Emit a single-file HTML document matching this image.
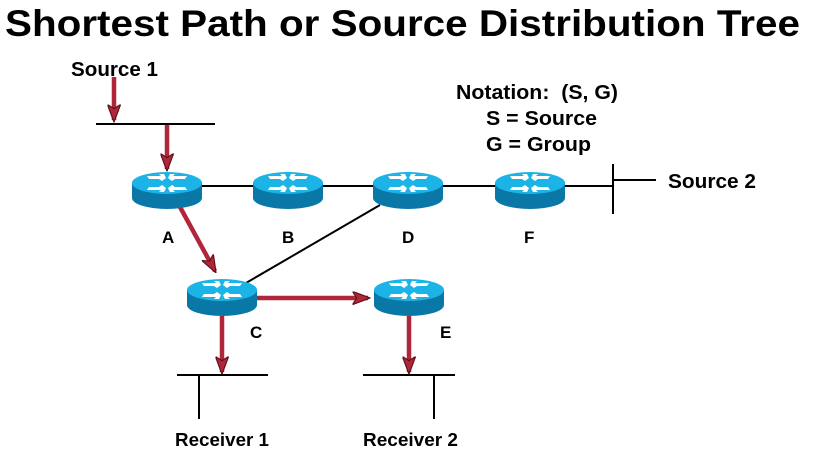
<!DOCTYPE html>
<html><head><style>
html,body{margin:0;padding:0;background:#fff}
svg{display:block}
text{font-family:"Liberation Sans",Arial,sans-serif;font-weight:bold;fill:#000}
</style></head><body>
<svg width="818" height="471" viewBox="0 0 818 471" xmlns="http://www.w3.org/2000/svg">
<defs>
<g id="r">
<path d="M-35,0 L-35,15 A35,11 0 0 0 35,15 L35,0 Z" fill="#0a78a6"/>
<ellipse cx="0" cy="0" rx="35" ry="11" fill="#1cb4e6"/>
<g fill="#fff">
<polygon points="-20,-7 -6,-7 -8,-9 -3,-9 -1,-5 -5,-2 -8,-4 -18,-4"/>
<polygon points="20,-7 6,-7 8,-9 3,-9 1,-5 5,-2 8,-4 18,-4"/>
<polygon points="-20,7 -6,7 -8,9 -3,9 -1,5 -5,2 -8,4 -18,4"/>
<polygon points="20,7 6,7 8,9 3,9 1,5 5,2 8,4 18,4"/>
</g>
</g>
<marker id="ah" markerWidth="4" markerHeight="3" refX="3.5" refY="1.5" orient="auto" markerUnits="strokeWidth">
<path d="M0,0 L4,1.5 L0,3 L1,1.5 Z" fill="#b0263a" stroke="#5a1018" stroke-width="0.25"/>
</marker>
</defs>
<text x="5" y="36" font-size="37" textLength="795" lengthAdjust="spacingAndGlyphs">Shortest Path or Source Distribution Tree</text>
<text x="71" y="76" font-size="20" textLength="87" lengthAdjust="spacingAndGlyphs">Source 1</text>
<text x="456" y="99" font-size="20" textLength="162" lengthAdjust="spacingAndGlyphs" xml:space="preserve">Notation:  (S, G)</text>
<text x="486" y="125" font-size="20" textLength="111" lengthAdjust="spacingAndGlyphs">S = Source</text>
<text x="486" y="151" font-size="20" textLength="105" lengthAdjust="spacingAndGlyphs">G = Group</text>
<text x="668" y="188" font-size="20" textLength="88" lengthAdjust="spacingAndGlyphs">Source 2</text>
<g stroke="#000" stroke-width="2" fill="none">
<line x1="96" y1="124" x2="215" y2="124"/>
<line x1="167" y1="186" x2="530" y2="186"/>
<line x1="530" y1="186" x2="613" y2="186"/>
<line x1="613" y1="164" x2="613" y2="214"/>
<line x1="613" y1="180" x2="656" y2="180"/>
<line x1="380" y1="205" x2="246" y2="283"/>
<line x1="177" y1="375" x2="268" y2="375"/>
<line x1="199" y1="375" x2="199" y2="419"/>
<line x1="363" y1="375" x2="455" y2="375"/>
<line x1="434" y1="375" x2="434" y2="419"/>
</g>
<g stroke="#b0263a" stroke-width="4.5" marker-end="url(#ah)">
<line x1="114" y1="77" x2="114" y2="120"/>
<line x1="167" y1="125" x2="167" y2="169"/>
<line x1="180" y1="207" x2="215" y2="271"/>
<line x1="222" y1="316" x2="222" y2="372"/>
<line x1="257" y1="298" x2="368" y2="298"/>
<line x1="409" y1="316" x2="409" y2="372"/>
</g>
<use href="#r" x="167" y="183"/>
<use href="#r" x="288" y="183"/>
<use href="#r" x="408" y="183"/>
<use href="#r" x="530" y="183"/>
<use href="#r" x="222" y="290"/>
<use href="#r" x="409" y="290"/>
<text x="162" y="243" font-size="17">A</text>
<text x="282" y="243" font-size="17">B</text>
<text x="402" y="243" font-size="17">D</text>
<text x="524" y="243" font-size="17">F</text>
<text x="250" y="338" font-size="17">C</text>
<text x="440" y="338" font-size="17">E</text>
<text x="175" y="446" font-size="18" textLength="94" lengthAdjust="spacingAndGlyphs">Receiver 1</text>
<text x="363" y="446" font-size="18" textLength="95" lengthAdjust="spacingAndGlyphs">Receiver 2</text>
</svg>
</body></html>
